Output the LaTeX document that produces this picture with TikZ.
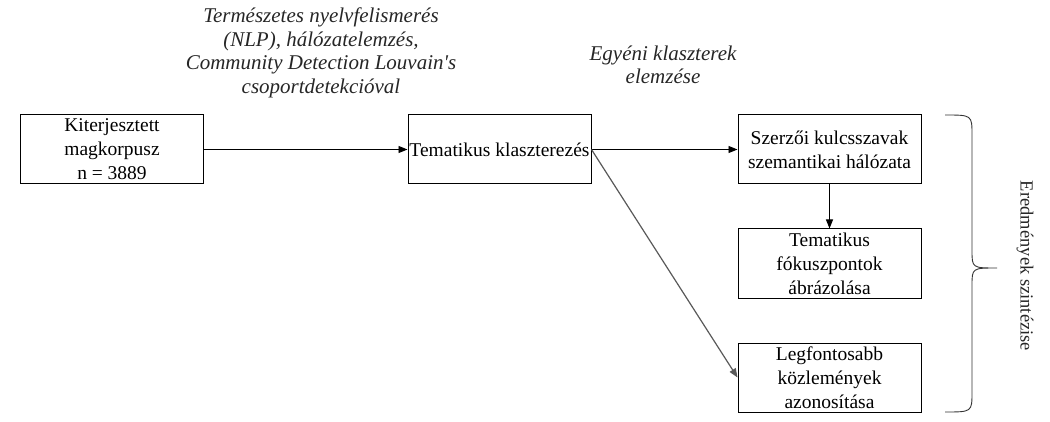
\documentclass[tikz,border=0pt]{standalone}
\usepackage{fontspec}
\setmainfont{Liberation Serif}[Ligatures=TeXOff]
\usetikzlibrary{arrows.meta}
\begin{document}
\begin{tikzpicture}[x=1pt,y=-1pt,
  stepbox/.style={draw,line width=1pt,minimum width=183pt,minimum height=69pt,
    align=center,inner sep=1pt,font=\fontsize{19.5}{24}\selectfont},
  note/.style={align=center,font=\itshape\fontsize{21}{23.5}\selectfont,text=black!85},
  flow/.style={line width=0.9pt,-{Triangle[length=9pt,width=7pt]}}]
\useasboundingbox (0,0) rectangle (1050,422);
% process boxes
\node[stepbox] (corpus) at (112,149.5) {Kiterjesztett\\magkorpusz\\n = 3889};
\node[stepbox] (cluster) at (499.5,149.5) {Tematikus klaszterezés};
\node[stepbox] (network) at (829.5,149.5) {Szerzői kulcsszavak\\szemantikai hálózata};
\node[stepbox] (focus) at (829.5,263.5) {Tematikus\\fókuszpontok\\ábrázolása};
\node[stepbox] (papers) at (829.5,377.5) {Legfontosabb\\közlemények\\azonosítása};
% method notes
\node[note] (nlp) at (321,53) {Természetes nyelvfelismerés\\(NLP), hálózatelemzés,\\Community Detection Louvain's\\csoportdetekcióval};
\node[note] (single) at (663,65) {Egyéni klaszterek\\elemzése};
% connectors
\draw[flow] (corpus) -- (cluster);
\draw[flow] (cluster) -- (network);
\draw[flow] (network) -- (focus);
\draw[flow,draw=black!65,line width=1.2pt] (cluster.east) -- (papers.west);
% summary brace
\draw[line width=0.9pt,black!80] (945,115) .. controls (972,115) .. (972,135) -- (972,250)
  .. controls (972,268) .. (997,268) coordinate (tip)
  .. controls (972,268) .. (972,286) -- (972,392) .. controls (972,412) .. (945,412);
\node[rotate=-90,font=\fontsize{18.5}{20}\selectfont,text=black!85] (synth) at (1025,266) {Eredmények szintézise};
\end{tikzpicture}
\end{document}
